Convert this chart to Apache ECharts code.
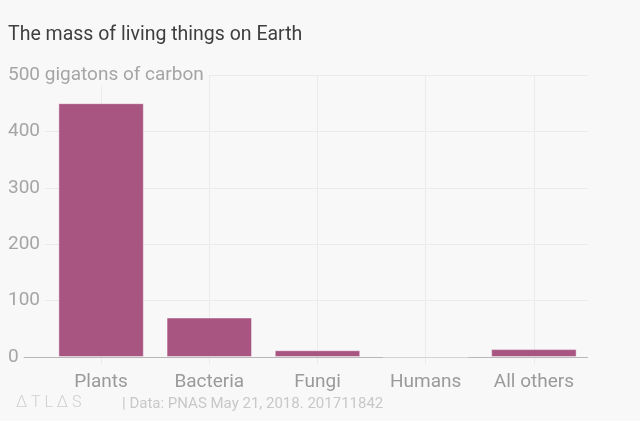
<!DOCTYPE html>
<html>
<head>
<meta charset="utf-8">
<script src="https://cdn.jsdelivr.net/npm/echarts@6/dist/echarts.min.js"></script>
<style>
  html, body { margin: 0; padding: 0; background: #ffffff; }
  #chart { width: 640px; height: 421px; }
</style>
</head>
<body>
<div id="chart"></div>
<script>
const titleText = 'The mass of living things on Earth';
const categories = ['Plants', 'Bacteria', 'Fungi', 'Humans', 'All others'];
const values = [450, 70, 12, 0.06, 14];
const yTicks = [0, 100, 200, 300, 400, 500];
const yUnit = 'gigatons of carbon';
const logoText = '\u0394 T L \u0394 S';
const sourceText = '| Data: PNAS May 21, 2018. 201711842';

const FONT = 'Roboto';
const yMin = yTicks[0];
const yMax = yTicks[yTicks.length - 1];
const yStep = yTicks[1] - yTicks[0];
const BG = '#f8f8f8';
const GRID_C = '#ebebeb';

const chart = echarts.init(document.getElementById('chart'), null, { renderer: 'canvas' });
chart.setOption({
  backgroundColor: BG,
  animation: false,
  textStyle: { fontFamily: FONT },
  title: [
    { text: titleText, left: 8, top: 25, padding: 0,
      textStyle: { fontFamily: FONT, fontSize: 19.5, fontWeight: 'normal', color: '#3f3f3f' } },
    { text: logoText, left: 16, top: 395, padding: 0,
      textStyle: { fontFamily: FONT, fontSize: 16, fontWeight: 300, color: '#cfcfcf' } },
    { text: sourceText, left: 122, top: 397, padding: 0,
      textStyle: { fontFamily: FONT, fontSize: 15, fontWeight: 'normal', color: '#c8c8c8' } }
  ],
  grid: [
    { left: 8, right: 52, top: 75, bottom: 64 },
    { left: 47, right: 52, top: 75, bottom: 64 }
  ],
  xAxis: [
    { gridIndex: 0, type: 'value', show: false, min: 0, max: 1 },
    { gridIndex: 1, type: 'category', data: categories, boundaryGap: true, z: 0,
      axisLine: { show: false },
      axisTick: { show: true, alignWithLabel: true, length: 7, lineStyle: { color: GRID_C } },
      splitLine: { show: true, alignWithLabel: true, lineStyle: { color: GRID_C, width: 1 } },
      axisLabel: { fontFamily: FONT, fontSize: 19, color: '#9a9a9a', margin: 16 } }
  ],
  yAxis: [
    { gridIndex: 0, type: 'value', min: yMin, max: yMax, interval: yStep, z: 1,
      axisLine: { show: false }, axisTick: { show: false },
      splitLine: { show: true, lineStyle: { color: ['#b8b8b8', GRID_C, GRID_C, GRID_C, GRID_C, GRID_C], width: 1 } },
      axisLabel: {
        inside: true, margin: 0, align: 'left', verticalAlign: 'middle',
        fontFamily: FONT, fontSize: 19, color: '#a5a5a5',
        backgroundColor: BG, padding: [2, 5, 2, 0],
        formatter: v => v === yMax ? v + ' ' + yUnit : String(v)
      } },
    { gridIndex: 1, type: 'value', min: yMin, max: yMax, interval: yStep, show: false,
      splitLine: { show: false } }
  ],
  series: [{
    type: 'bar',
    xAxisIndex: 1, yAxisIndex: 1,
    data: values,
    barWidth: '79%',
    itemStyle: { color: '#a85582', borderColor: 'rgba(255,255,255,0.45)', borderWidth: 1 },
    z: 3
  }]
});
</script>
</body>
</html>
